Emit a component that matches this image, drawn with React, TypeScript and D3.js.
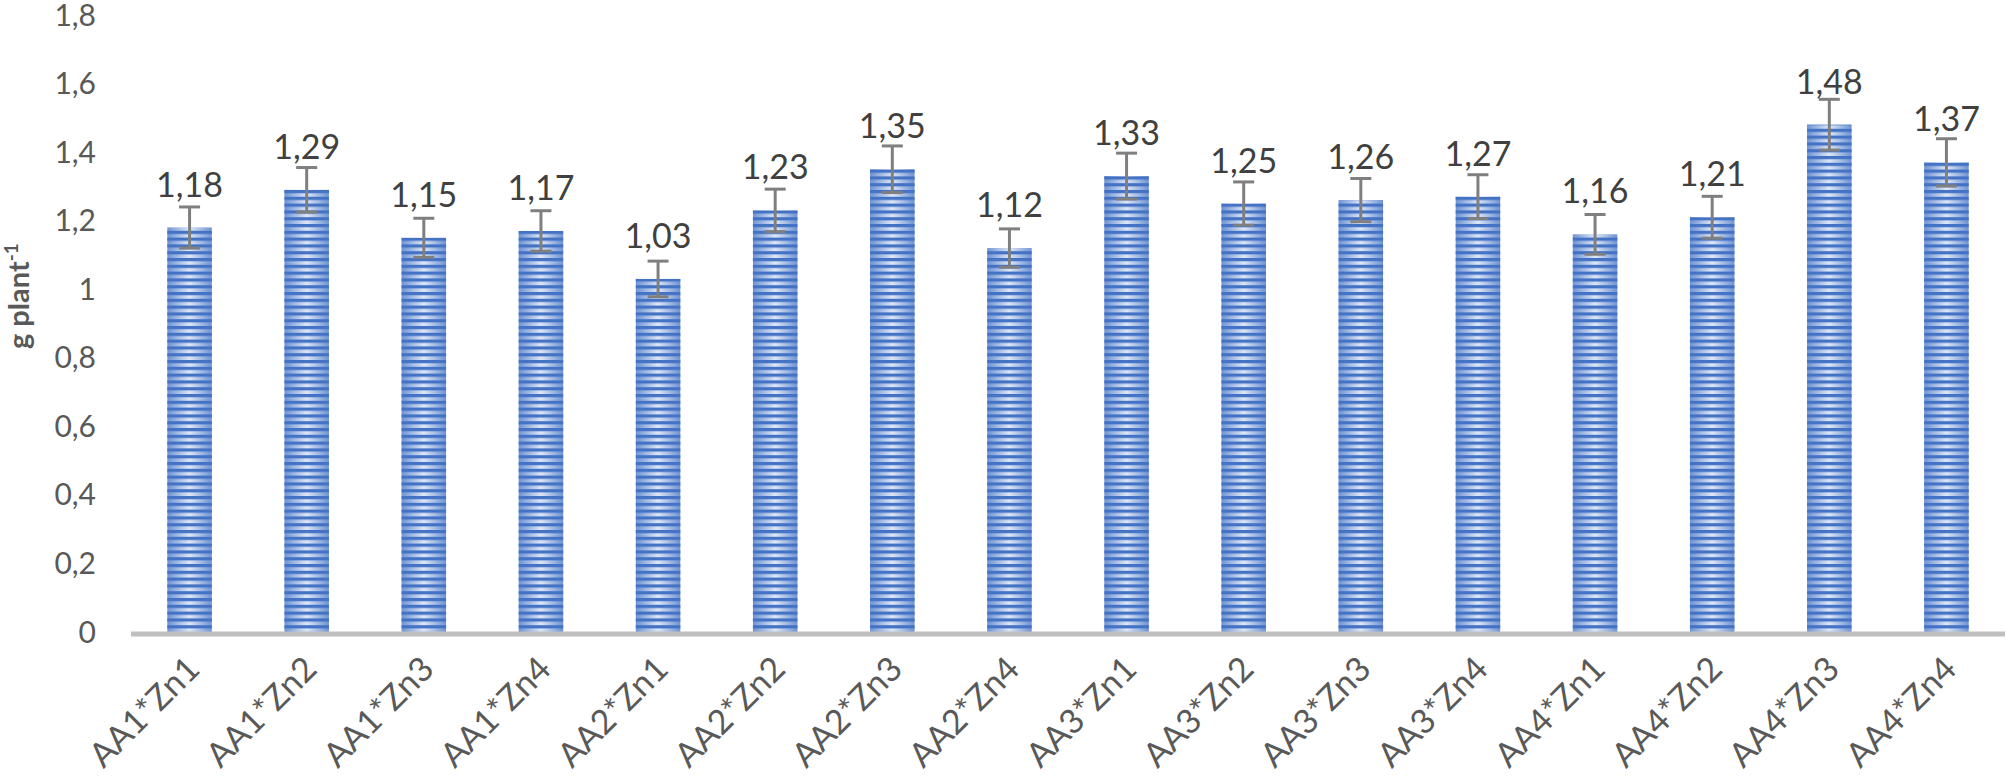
import React from "react";
import * as d3 from "d3";

const categories = [
  "AA1*Zn1", "AA1*Zn2", "AA1*Zn3", "AA1*Zn4",
  "AA2*Zn1", "AA2*Zn2", "AA2*Zn3", "AA2*Zn4",
  "AA3*Zn1", "AA3*Zn2", "AA3*Zn3", "AA3*Zn4",
  "AA4*Zn1", "AA4*Zn2", "AA4*Zn3", "AA4*Zn4",
];
const values = [1.18, 1.29, 1.15, 1.17, 1.03, 1.23, 1.35, 1.12, 1.33, 1.25, 1.26, 1.27, 1.16, 1.21, 1.48, 1.37];
const errors = [0.06, 0.065, 0.057, 0.059, 0.052, 0.062, 0.068, 0.056, 0.067, 0.063, 0.063, 0.064, 0.058, 0.061, 0.074, 0.069];
const yTicks = [0, 0.2, 0.4, 0.6, 0.8, 1, 1.2, 1.4, 1.6, 1.8];
const yTitle = "g plant";
const yTitleSup = "-1";

const W = 2006;
const H = 778;
const FONT = "Lato, 'Open Sans', sans-serif";

const fmt = (v: number) => String(v).replace(".", ",");

export default function App() {
  const x = d3.scaleBand<string>().domain(categories).range([131, 2005]).paddingInner(0.62).paddingOuter(0.31);
  const y = d3.scaleLinear().domain([0, 1.8]).range([632, 15]);
  const bw = x.bandwidth();

  return (
    <svg width={W} height={H} style={{ position: "absolute", left: 0, top: 0, background: "#fff" }}>
      <defs>
        <linearGradient id="lightGrad" x1="0" x2="1" y1="0" y2="0">
          <stop offset="0" stopColor="#6f93d3" />
          <stop offset="0.5" stopColor="#dde7f7" />
          <stop offset="1" stopColor="#6f93d3" />
        </linearGradient>
        <pattern id="stripes" patternUnits="userSpaceOnUse" x="0" y={y(0)} width="10" height="6.8">
          <rect x="0" y="0" width="10" height="3.2" fill="#4472c4" />
        </pattern>
      </defs>
      {yTicks.map((t) => (
        <text key={t} x={96} y={y(t) + 10.5} textAnchor="end" fontFamily={FONT} fontSize={30} fill="#595959">
          {fmt(t)}
        </text>
      ))}
      <text transform={`translate(29,${y(0.98)}) rotate(-90)`} textAnchor="middle" fontFamily={FONT} fontSize={29} fontWeight="bold" fill="#595959">
        {yTitle}
        <tspan fontSize={19} dy={-11}>{yTitleSup}</tspan>
      </text>
      {categories.map((c, i) => {
        const x0 = x(c) as number;
        const cx = x0 + bw / 2;
        const v = values[i];
        const e = errors[i];
        return (
          <g key={c}>
            <rect x={x0} y={y(v)} width={bw} height={y(0) - y(v)} fill="url(#lightGrad)" />
            <rect x={x0} y={y(v)} width={bw} height={y(0) - y(v)} fill="url(#stripes)" />
            <g stroke="#7f7f7f" strokeWidth={3}>
              <line x1={cx} x2={cx} y1={y(v + e)} y2={y(v - e)} />
              <line x1={cx - 10.5} x2={cx + 10.5} y1={y(v + e)} y2={y(v + e)} />
              <line x1={cx - 10.5} x2={cx + 10.5} y1={y(v - e)} y2={y(v - e)} />
            </g>
            <text x={cx} y={y(v) - 31} textAnchor="middle" fontFamily={FONT} fontSize={34} fill="#404040">
              {fmt(v)}
            </text>
            <text
              transform={`translate(${cx + 6},${665}) rotate(-45)`}
              textAnchor="end"
              dominantBaseline="middle"
              fontFamily={FONT}
              fontSize={34}
              fill="#595959"
            >
              {c}
            </text>
          </g>
        );
      })}
      <line x1={131} x2={2005} y1={634} y2={634} stroke="#bfbfbf" strokeWidth={5} />
    </svg>
  );
}
